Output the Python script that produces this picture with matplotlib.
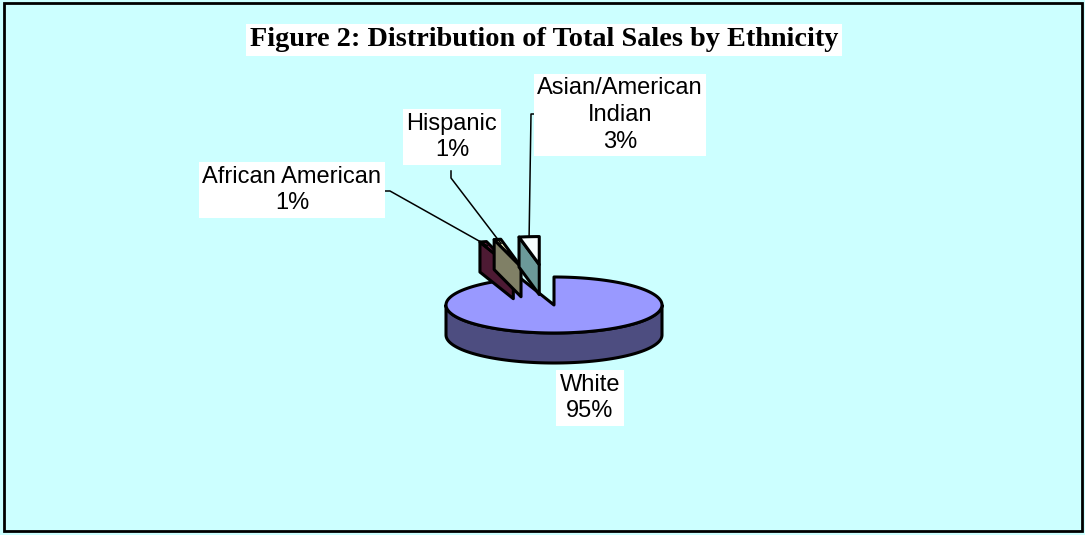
import numpy as np
import matplotlib.pyplot as plt
from matplotlib.patches import Polygon, Rectangle

# Data
groups = ['White', 'African American', 'Hispanic', 'Asian/American\nIndian']
shares = [95, 1, 1, 3]
top_colors = ['#9999FF', '#993366', '#FFFFCC', '#F8FFFF']
side_colors = ['#4D4D80', '#4D1A33', '#808066', '#6B9999']
explode = [0.0, 1.35, 1.4, 1.45]

# pie geometry in pixel units (y grows downward)
cx, cy = 554, 305
ra, rb = 108, 28
depth = 30


def pt(theta, r=1.0, off=(0, 0), dz=0.0):
    t = np.radians(theta)
    return (cx + off[0] + ra * r * np.sin(t), cy + off[1] - rb * r * np.cos(t) + dz)


def arc(t1, t2, off, dz=0.0):
    ts = np.linspace(t1, t2, max(int(abs(t2 - t1) / 2) + 2, 3))
    return [pt(t, 1.0, off, dz) for t in ts]


fig = plt.figure(figsize=(10.85, 5.35), dpi=100)
fig.patch.set_facecolor('#CCFFFF')
ax = fig.add_axes([0, 0, 1, 1])
ax.set_xlim(0, 1085)
ax.set_ylim(535, 0)
ax.axis('off')

# slice angles, clockwise from 12 o'clock
total = float(sum(shares))
bounds = np.concatenate([[0], np.cumsum(shares)]) / total * 360
slices = []
for i in range(len(shares)):
    t1, t2 = bounds[i], bounds[i + 1]
    mid = np.radians((t1 + t2) / 2)
    off = (ra * explode[i] * np.sin(mid), -rb * explode[i] * np.cos(mid))
    slices.append((t1, t2, off))

lw = 2.2
for i, (t1, t2, off) in enumerate(slices):
    tip = pt(0, 0, off)
    tip_b = pt(0, 0, off, depth)
    # outer wall (front half only)
    lo, hi = max(t1, 90), min(t2, 270)
    if lo < hi:
        wall = arc(lo, hi, off) + arc(hi, lo, off, depth)
        ax.add_patch(Polygon(wall, closed=True, fc=side_colors[i], ec='black', lw=lw, joinstyle='round'))
    # radial cut faces turned toward the viewer
    if explode[i] > 0:
        if np.sin(np.radians(t1)) < 0:
            face = [tip, pt(t1, 1, off), pt(t1, 1, off, depth), tip_b]
            ax.add_patch(Polygon(face, closed=True, fc=side_colors[i], ec='black', lw=lw, joinstyle='round'))
        if -np.sin(np.radians(t2)) < 0:
            face = [tip, pt(t2, 1, off), pt(t2, 1, off, depth), tip_b]
            ax.add_patch(Polygon(face, closed=True, fc=side_colors[i], ec='black', lw=lw, joinstyle='round'))
    top = [tip] + arc(t1, t2, off)
    ax.add_patch(Polygon(top, closed=True, fc=top_colors[i], ec='black', lw=lw, joinstyle='round'))

# title
ax.text(544, 40, 'Figure 2: Distribution of Total Sales by Ethnicity', ha='center', va='center',
        fontsize=20.3, fontweight='bold', family='Liberation Serif',
        bbox=dict(boxstyle='square,pad=0.12', fc='white', ec='none'))

# data labels
label_pos = [(590, 398), (292, 190), (452, 137), (620, 115)]
leader_start = [None, [(381, 191), (390, 191)], [(451, 171), (451, 178)], [(540, 114), (531, 114)]]
leader_r = [None, 0.85, 0.85, 1.0]
for i, name in enumerate(groups):
    txt = '%s\n%d%%' % (name, shares[i])
    ax.text(label_pos[i][0], label_pos[i][1], txt, ha='center', va='center', fontsize=17,
            family='Liberation Sans', linespacing=1.27,
            bbox=dict(boxstyle='square,pad=0.15', fc='white', ec='none'))
    if leader_start[i] is not None:
        t1, t2, off = slices[i]
        end = pt((t1 + t2) / 2, leader_r[i], off)
        xs = [p[0] for p in leader_start[i]] + [end[0]]
        ys = [p[1] for p in leader_start[i]] + [end[1]]
        ax.plot(xs, ys, color='black', lw=1.1)

# chart border
ax.add_patch(Rectangle((3.5, 2.5), 1078, 528.5, fill=False, ec='black', lw=2))

fig.savefig('out.png', dpi=100, facecolor=fig.get_facecolor())
